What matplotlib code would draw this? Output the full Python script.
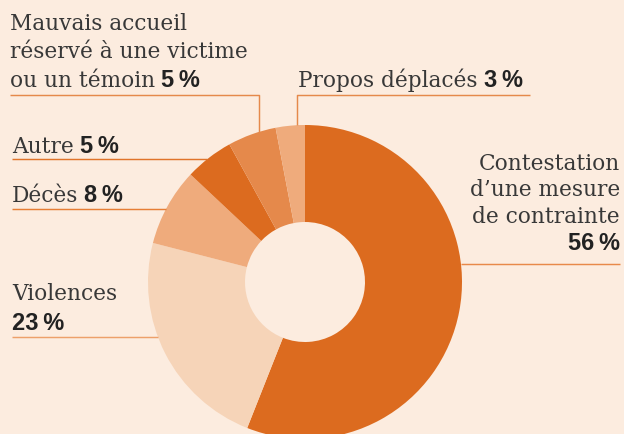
import matplotlib
matplotlib.use("Agg")
import matplotlib.pyplot as plt
import numpy as np

# ---- data ----
categories = ["Contestation d'une mesure de contrainte", "Violences", "Décès", "Autre",
              "Mauvais accueil réservé à une victime ou un témoin", "Propos déplacés"]
values = [56, 23, 8, 5, 5, 3]
colors = ['#DC6B1F', '#F6D4B8', '#EFAB7C', '#DC6B1F', '#E5894B', '#EFAB7C']
label_lines = [["Contestation", "d\u2019une mesure", "de contrainte"], ["Violences"], ["D\u00e9c\u00e8s"],
               ["Autre"], ["Mauvais accueil", "r\u00e9serv\u00e9 \u00e0 une victime", "ou un t\u00e9moin"],
               ["Propos d\u00e9plac\u00e9s"]]
pct_labels = [f"{v}\u2009%" for v in values]

# ---- layout (pixel coordinates, y measured from top) ----
W, H = 624, 435
BG = '#FCECDF'
TXT = '#383838'
cx, cy = 305, 283
R_out, R_in = 157, 60

fig = plt.figure(figsize=(W / 100, H / 100), dpi=100, facecolor=BG)
ax = fig.add_axes([0, 0, 1, 1])
ax.set_facecolor(BG)

ax.pie(values, colors=colors, startangle=90, counterclock=False, radius=R_out,
       center=(cx, H - cy), wedgeprops=dict(width=R_out - R_in, linewidth=0))
ax.set_xlim(0, W)
ax.set_ylim(0, H)
ax.set_aspect('auto')
ax.axis('off')

serif = dict(family=['DejaVu Serif'], fontsize=15.6, color=TXT)
bold = dict(family=['Liberation Sans', 'DejaVu Sans'], fontsize=17, fontweight='bold', color='#222222')

fig.canvas.draw()
renderer = fig.canvas.get_renderer()


def put_label(idx, x, baselines, ha='left', pct_mode='inline', pct_baseline=None):
    lines = label_lines[idx]
    last = None
    for line, yb in zip(lines, baselines):
        last = ax.text(x, H - yb, line, ha=ha, va='baseline', **serif)
    if pct_mode == 'inline':
        bb = last.get_window_extent(renderer)
        ax.text(bb.x1 + 6, H - baselines[len(lines) - 1], pct_labels[idx], ha='left', va='baseline', **bold)
    else:
        ax.text(x, H - pct_baseline, pct_labels[idx], ha=ha, va='baseline', **bold)


def circle_x(y, side):
    dy = y - cy
    return cx + side * np.sqrt(R_out ** 2 - dy ** 2)


def circle_y_top(x):
    dx = x - cx
    return cy - np.sqrt(R_out ** 2 - dx ** 2)


def seg(xs, ys, color):
    ax.plot(xs, [H - y for y in ys], color=color, lw=1.05, solid_capstyle='butt')


# Contestation
put_label(0, 620, [170, 196, 223], ha='right', pct_mode='newline', pct_baseline=250)
seg([circle_x(265, 1), 620], [265, 265], '#E8894A')
# Violences
put_label(1, 12, [300], pct_mode='newline', pct_baseline=330)
seg([12, circle_x(338, -1)], [338, 338], '#EDA06A')
# Deces
put_label(2, 12, [202])
seg([12, circle_x(210, -1)], [210, 210], '#E67E35')
# Autre
put_label(3, 12, [153])
seg([12, circle_x(160, -1)], [160, 160], '#E0742A')
# Mauvais accueil
put_label(4, 10, [30, 58, 87])
seg([10, 259, 259], [96, 96, circle_y_top(259)], '#E5894B')
# Propos
put_label(5, 298, [87])
seg([530, 297, 297], [96, 96, circle_y_top(297)], '#E5894B')

fig.savefig('out.png', dpi=100, facecolor=BG)
